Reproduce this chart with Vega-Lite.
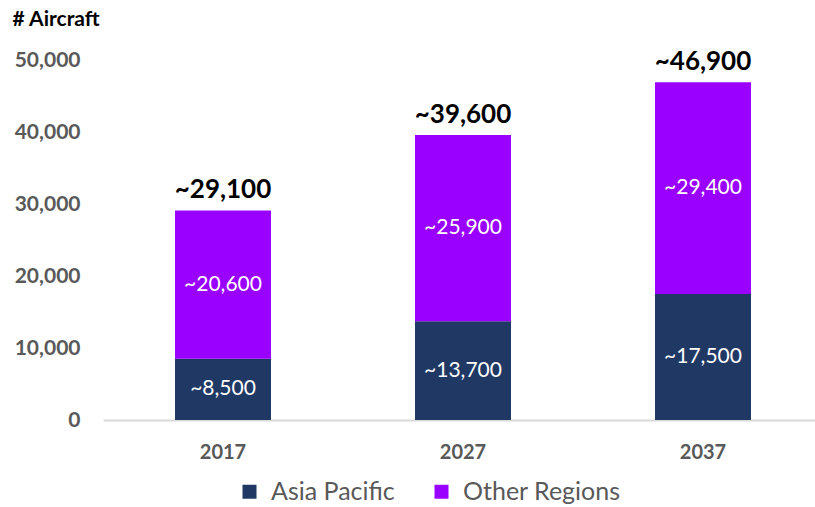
{
  "$schema": "https://vega.github.io/schema/vega-lite/v6.json",
  "width": 712,
  "height": 360,
  "autosize": {"type": "none"},
  "padding": {"left": 103, "top": 60, "right": 0, "bottom": 87},
  "background": "white",
  "config": {"view": {"stroke": null}, "font": "Lato"},
  "datasets": {
    "segments": [
      {"year": "2017", "region": "Asia Pacific", "value": 8500, "label": "~8,500"},
      {"year": "2017", "region": "Other Regions", "value": 20600, "label": "~20,600"},
      {"year": "2027", "region": "Asia Pacific", "value": 13700, "label": "~13,700"},
      {"year": "2027", "region": "Other Regions", "value": 25900, "label": "~25,900"},
      {"year": "2037", "region": "Asia Pacific", "value": 17500, "label": "~17,500"},
      {"year": "2037", "region": "Other Regions", "value": 29400, "label": "~29,400"}
    ],
    "totals": [
      {"year": "2017", "total": 29100, "label": "~29,100"},
      {"year": "2027", "total": 39600, "label": "~39,600"},
      {"year": "2037", "total": 46900, "label": "~46,900"}
    ]
  },
  "encoding": {
    "x": {
      "field": "year", "type": "nominal",
      "scale": {"range": [0, 720], "paddingInner": 0.6, "paddingOuter": 0.3},
      "axis": {
        "title": null, "labelAngle": 0, "ticks": false,
        "domainColor": "#d9d9d9", "domainWidth": 2,
        "labelFontSize": 20, "labelFontWeight": "bold", "labelColor": "#595959",
        "labelPadding": 22
      }
    }
  },
  "layer": [
    {
      "data": {"name": "segments"},
      "mark": {"type": "bar"},
      "encoding": {
        "y": {
          "field": "value", "type": "quantitative", "stack": "zero",
          "scale": {"domain": [0, 50000]},
          "axis": {
            "values": [0, 10000, 20000, 30000, 40000, 50000], "format": ",.0f",
            "grid": false, "domain": false, "ticks": false,
            "labelColor": "#595959", "labelFontWeight": "bold", "labelFontSize": 21,
            "labelPadding": 23,
            "title": "# Aircraft", "titleAngle": 0, "titleX": -91, "titleY": -35,
            "titleAlign": "left", "titleBaseline": "alphabetic",
            "titleFontSize": 21, "titleFontWeight": "bold", "titleColor": "#000000"
          }
        },
        "order": {"field": "region", "sort": "ascending"},
        "color": {
          "field": "region", "type": "nominal",
          "scale": {"domain": ["Asia Pacific", "Other Regions"], "range": ["#203864", "#9900FF"]},
          "legend": {
            "title": null, "orient": "none", "direction": "horizontal",
            "legendX": 134, "legendY": 419,
            "symbolType": "square", "symbolSize": 196, "symbolStrokeWidth": 0,
            "labelFontSize": 25, "labelColor": "#595959", "columnPadding": 34,
            "labelOffset": 9
          }
        }
      }
    },
    {
      "data": {"name": "segments"},
      "transform": [
        {"stack": "value", "groupby": ["year"], "sort": [{"field": "region", "order": "ascending"}], "as": ["v0", "v1"]},
        {"calculate": "(datum.v0 + datum.v1) / 2", "as": "mid"}
      ],
      "mark": {"type": "text", "color": "white", "fontSize": 21, "baseline": "middle"},
      "encoding": {
        "y": {"field": "mid", "type": "quantitative"},
        "text": {"field": "label"}
      }
    },
    {
      "data": {"name": "totals"},
      "mark": {"type": "text", "color": "black", "fontSize": 26, "fontWeight": "bold", "baseline": "bottom", "dy": -7},
      "encoding": {
        "y": {"field": "total", "type": "quantitative"},
        "text": {"field": "label"}
      }
    }
  ]
}
